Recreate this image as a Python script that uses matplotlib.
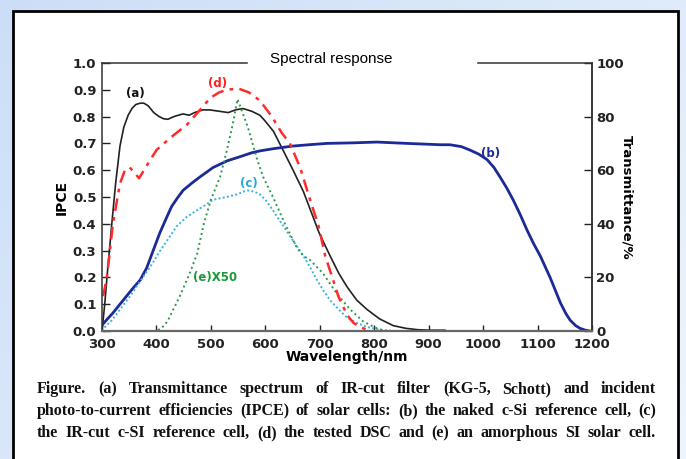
import numpy as np
import matplotlib
matplotlib.use("Agg")
import matplotlib.pyplot as plt
from matplotlib.patches import Rectangle

# == data
# (a) IR-cut filter transmittance, %  (right axis)
wl_a = [300, 305, 310, 318, 325, 333, 340, 348, 355, 362, 370, 377, 385, 395, 405, 413,
        421, 432, 440, 449, 460, 470, 485, 498, 515, 532, 545, 559, 575, 590, 599, 615,
        630, 651, 670, 685, 698, 719, 735, 750, 768, 787, 810, 835, 858, 879, 900, 930]
tr_a = [0, 10, 22, 40, 55, 69, 76, 80.5, 83, 84.5, 85, 85, 84, 81.5, 80, 79.2,
        79, 80, 80.5, 81, 80.5, 81.5, 82.5, 82.5, 82, 81.5, 82.5, 83, 82, 80.5, 78.5, 74.5,
        68.5, 60, 52, 44, 37, 28, 21.5, 16.5, 11.5, 8, 4.5, 2, 1, 0.5, 0.3, 0.3]
# (b) naked c-Si reference cell, IPCE
wl_b = [300, 310, 320, 333, 345, 357, 370, 382, 394, 406, 419, 428, 438, 449, 458, 467,
        480, 504, 530, 553, 575, 590, 614, 650, 680, 713, 760, 805, 860, 921, 939, 960,
        976, 992, 1007, 1020, 1031, 1043, 1055, 1068, 1081, 1093, 1105, 1123, 1142, 1152,
        1160, 1170, 1178, 1188, 1196]
ipce_b = [0.022, 0.045, 0.067, 0.10, 0.13, 0.16, 0.19, 0.235, 0.30, 0.365, 0.425, 0.465,
          0.495, 0.525, 0.54, 0.555, 0.575, 0.61, 0.635, 0.65, 0.665, 0.672, 0.68, 0.69,
          0.695, 0.70, 0.702, 0.705, 0.70, 0.695, 0.695, 0.688, 0.675, 0.66, 0.64, 0.61,
          0.575, 0.535, 0.49, 0.435, 0.375, 0.325, 0.28, 0.20, 0.105, 0.065, 0.04, 0.02,
          0.01, 0.003, 0.0]
# (c) IR-cut c-Si reference cell
wl_c = [300, 303, 318, 333, 355, 375, 392, 407, 422, 437, 455, 474, 490, 504, 529, 548,
        566, 580, 590, 602, 614, 627, 640, 655, 670, 683, 695, 707, 719, 735, 750, 768,
        787, 810, 835]
ipce_c = [0.0, 0.01, 0.04, 0.08, 0.14, 0.20, 0.25, 0.30, 0.345, 0.39, 0.425, 0.45, 0.47,
          0.49, 0.50, 0.51, 0.525, 0.52, 0.51, 0.485, 0.45, 0.41, 0.37, 0.325, 0.28, 0.235,
          0.19, 0.15, 0.115, 0.08, 0.05, 0.03, 0.015, 0.005, 0.0]
# (d) tested DSC
wl_d = [302, 309, 320, 333, 342, 351, 360, 368, 380, 400, 425, 456, 480, 499, 515, 529,
        550, 570, 590, 612, 630, 645, 664, 679, 698, 710, 723, 734, 750, 762, 774, 792]
ipce_d = [0.13, 0.20, 0.40, 0.55, 0.60, 0.61, 0.59, 0.57, 0.61, 0.675, 0.72, 0.77, 0.825,
          0.87, 0.89, 0.90, 0.905, 0.89, 0.86, 0.80, 0.74, 0.70, 0.61, 0.51, 0.39, 0.28,
          0.20, 0.13, 0.06, 0.03, 0.015, 0.0]
# (e) amorphous Si cell, x50
wl_e = [357, 400, 410, 420, 443, 462, 475, 487, 500, 517, 530, 540, 549, 568, 585, 596,
        614, 636, 658, 670, 682, 706, 731, 756, 780, 805, 820]
ipce_e = [0.0, 0.0, 0.012, 0.035, 0.13, 0.22, 0.29, 0.40, 0.49, 0.575, 0.68, 0.77, 0.865,
          0.76, 0.64, 0.575, 0.50, 0.40, 0.31, 0.28, 0.265, 0.215, 0.14, 0.08, 0.035,
          0.01, 0.0]

caption = [
    "Figure.  (a) Transmittance spectrum of IR-cut filter (KG-5, Schott) and incident",
    "photo-to-current efficiencies (IPCE) of solar cells: (b) the naked c-Si reference cell, (c)",
    "the IR-cut c-SI reference cell, (d) the tested DSC and (e) an amorphous SI solar cell.",
]

W, H = 686, 459
fig = plt.figure(figsize=(W / 100, H / 100), dpi=100)
plt.rcParams["font.family"] = ["DejaVu Sans"]

# == background gradient + white panel
bg = fig.add_axes([0, 0, 1, 1], zorder=-2)
gx, gy = np.meshgrid(np.linspace(0, 1, 200), np.linspace(0, 1, 200))
g = (gx * 0.6 + gy * 0.4)
c0 = np.array([0.80, 0.87, 0.97])
c1 = np.array([0.93, 0.96, 0.995])
img = c0[None, None, :] * (1 - g[..., None]) + c1[None, None, :] * g[..., None]
bg.imshow(img, aspect="auto", extent=[0, 1, 0, 1])
bg.set_axis_off()
bg.add_patch(Rectangle((13 / W, -0.01), (678 - 13) / W, 1.01 - 11 / H,
                       facecolor="white", edgecolor="black", lw=2,
                       transform=bg.transAxes))

# == main axes
x0, x1, y0, y1 = 102, 592, 63, 331
ax = fig.add_axes([x0 / W, 1 - y1 / H, (x1 - x0) / W, (y1 - y0) / H])
ax2 = ax.twinx()
ax.set_zorder(2)
ax2.set_zorder(1)
ax.patch.set_visible(False)

ax.plot(wl_b, ipce_b, color="#1c2a98", lw=2.0)
ax.plot(wl_c, ipce_c, color="#38b4e0", lw=1.4, ls=(0, (1, 1.2)))
ax.plot(wl_e, ipce_e, color="#2a9a4a", lw=1.4, ls=(0, (1, 1.6)))
ax.plot(wl_d, ipce_d, color="#ff2a2a", lw=1.8, ls=(0, (5, 2.5, 1.5, 2.5)))
ax2.plot(wl_a, tr_a, color="#222222", lw=1.2)

ax.set_xlim(300, 1200)
ax.set_ylim(0, 1.0)
ax2.set_ylim(0, 100)
ax.set_xticks(np.arange(300, 1201, 100))
ax.set_yticks(np.arange(0, 1.01, 0.1))
ax.set_yticklabels([f"{v:.1f}" for v in np.arange(0, 1.01, 0.1)])
ax2.set_yticks(np.arange(0, 101, 20))

for lab in ax.get_xticklabels() + ax.get_yticklabels() + ax2.get_yticklabels():
    lab.set_fontweight("bold")
    lab.set_fontsize(9.5)
ax.tick_params(axis="x", direction="in", length=4.5, width=1, pad=5, colors="#222")
ax.tick_params(axis="y", direction="in", length=5.5, width=1, pad=4, colors="#222")
ax2.tick_params(axis="y", direction="in", length=5.5, width=1, pad=3, colors="#222")

for s in ("left", "right", "bottom"):
    ax.spines[s].set_color("#333")
    ax.spines[s].set_linewidth(1.1)
ax.spines["bottom"].set_color("#666")
ax.spines["bottom"].set_linewidth(1.6)
ax.spines["top"].set_visible(False)
for s in ("left", "top", "bottom"):
    ax2.spines[s].set_visible(False)
ax2.spines["right"].set_color("#333")
ax2.spines["right"].set_linewidth(1.1)

# top frame, broken by the title block
ax.plot([0, (247 - x0) / (x1 - x0)], [1, 1], transform=ax.transAxes, color="#333",
        lw=1.1, clip_on=False)
ax.plot([(478 - x0) / (x1 - x0), 1], [1, 1], transform=ax.transAxes, color="#333",
        lw=1.1, clip_on=False)
fig.text(270 / W, 1 - 59 / H, "Spectral response", fontsize=11, va="center", ha="left",
         family=["Liberation Sans"])

ax.set_xlabel("Wavelength/nm", fontsize=10, fontweight="bold", labelpad=-1)
ax.set_ylabel("IPCE", fontsize=10, fontweight="bold", labelpad=3)
ax2.set_ylabel("Transmittance/%", fontsize=9.5, fontweight="bold", rotation=270,
               labelpad=7)

lab = dict(fontsize=8.5, fontweight="bold", ha="center", va="center")
ax.text(361, 0.888, "(a)", color="#111", **lab)
ax.text(513, 0.925, "(d)", color="#ff2020", **lab)
ax.text(1013, 0.664, "(b)", color="#1c2a98", **lab)
ax.text(570, 0.552, "(c)", color="#2aa8d8", **lab)
ax.text(508, 0.20, "(e)X50", color="#1a9a3a", **lab)

# == caption, justified between two edges
cap_left, cap_right = 37, 656
cap_base = [393, 415, 437]
renderer = fig.canvas.get_renderer()
for i, line in enumerate(caption):
    words = line.split()
    texts = [fig.text(0, 1 - cap_base[i] / H, w, fontsize=11.5, fontweight="bold",
                      family=["Liberation Serif"], va="baseline", ha="left", color="#111")
             for w in words]
    widths = [t.get_window_extent(renderer).width for t in texts]
    gap = (cap_right - cap_left - sum(widths)) / (len(words) - 1)
    x = cap_left
    for t, w in zip(texts, widths):
        t.set_x(x / W)
        x += w + gap

fig.savefig("out.png", dpi=100)
